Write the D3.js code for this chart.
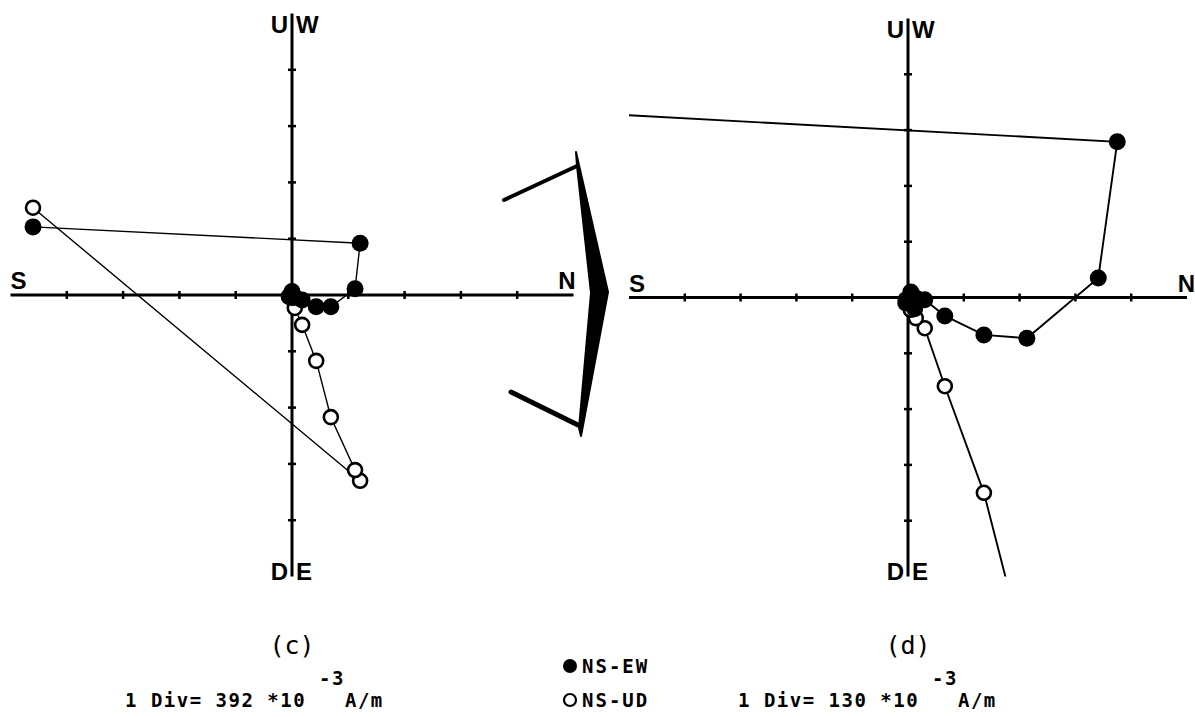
<!DOCTYPE html>
<html><head><meta charset="utf-8">
<script src="https://cdn.jsdelivr.net/npm/d3@7"></script>
<style>body{margin:0;background:#fff;} svg{display:block}</style>
</head><body>
<svg id="chart" width="1195" height="717"></svg>
<script>
// ---- Data (values in divisions) ----
// Panel (c): 1 Div = 392e-3 A/m
const nsC = [-4.60, 1.21, 1.12, 0.69, 0.43, 0.18, 0.05, 0.00, -0.05];
const ewC = [1.21, 0.92, 0.11, -0.21, -0.21, -0.09, -0.04, 0.06, -0.03];
const udC = [1.55, -3.30, -3.11, -2.17, -1.17, -0.53, -0.23, -0.05, -0.02];
// Panel (d): 1 Div = 130e-3 A/m (first steps fall outside the frame)
const nsD = [-8.0, 3.75, 3.41, 2.13, 1.36, 0.66, 0.30, 0.14, 0.05, -0.04, 0.12];
const ewD = [3.43, 2.79, 0.35, -0.73, -0.67, -0.33, -0.04, -0.01, 0.10, -0.10, -0.20];
const udD = [-10.0, -9.0, -8.0, -6.5, -3.50, -1.59, -0.55, -0.37, -0.22, -0.04, -0.04];
const tickDivs = [-4, -3, -2, -1, 1, 2, 3, 4];
const panelLabels = ["(c)", "(d)"];
const scaleValues = ["392", "130"];
const legendLabels = ["NS-EW", "NS-UD"];
const axisLabels = {top: ["U", "W"], bottom: ["D", "E"], left: "S", right: "N"};

const svg = d3.select("#chart");

const panels = [
  {id: "c", ns: nsC, ew: ewC, ud: udC, cx: 292, cy: 295, div: 56.3, label: panelLabels[0], scale: scaleValues[0], textX: 125, lw: 1.4},
  {id: "d", ns: nsD, ew: ewD, ud: udD, cx: 908, cy: 297.5, div: 55.8, label: panelLabels[1], scale: scaleValues[1], textX: 738, lw: 1.9}
];

const labelFont = "'Liberation Sans', Arial, sans-serif";
const plotFont = "'DejaVu Sans Mono', monospace";

panels.forEach(p => {
  const x = d3.scaleLinear().domain([-5, 5]).range([p.cx - 5 * p.div, p.cx + 5 * p.div]);
  const y = d3.scaleLinear().domain([-5, 5]).range([p.cy + 5 * p.div, p.cy - 5 * p.div]);
  const g = svg.append("g");

  svg.append("clipPath").attr("id", "clip-" + p.id).append("rect")
    .attr("x", x(-5)).attr("y", y(5)).attr("width", x(5) - x(-5)).attr("height", y(-5) - y(5));

  // axes
  g.append("line").attr("x1", x(-5)).attr("x2", x(5)).attr("y1", y(0)).attr("y2", y(0))
    .attr("stroke", "#000").attr("stroke-width", 3);
  g.append("line").attr("x1", x(0)).attr("x2", x(0)).attr("y1", y(5)).attr("y2", y(-5))
    .attr("stroke", "#000").attr("stroke-width", 3);
  g.selectAll(".tx").data(tickDivs).enter().append("line")
    .attr("x1", d => x(d)).attr("x2", d => x(d)).attr("y1", y(0) - 4).attr("y2", y(0) + 4)
    .attr("stroke", "#000").attr("stroke-width", 2.5);
  g.selectAll(".ty").data(tickDivs).enter().append("line")
    .attr("y1", d => y(d)).attr("y2", d => y(d)).attr("x1", x(0) - 4).attr("x2", x(0) + 4)
    .attr("stroke", "#000").attr("stroke-width", 2.5);

  // axis labels
  const lab = (t, px, py, anchor) => g.append("text").text(t).attr("x", px).attr("y", py)
    .attr("text-anchor", anchor).attr("font-family", labelFont).attr("font-weight", "bold")
    .attr("font-size", 24).attr("fill", "#000");
  lab(axisLabels.top[0], x(0) - 4, y(5) + 19, "end");
  lab(axisLabels.top[1], x(0) + 4, y(5) + 19, "start");
  lab(axisLabels.bottom[0], x(0) - 4, y(-5) + 3, "end");
  lab(axisLabels.bottom[1], x(0) + 4, y(-5) + 3, "start");
  lab(axisLabels.left, x(-5), y(0) - 6, "start");
  lab(axisLabels.right, x(5) + (p.id === "d" ? 8 : 2), y(0) - 6, "end");

  // data
  const idx = d3.range(p.ns.length);
  const dg = g.append("g").attr("clip-path", "url(#clip-" + p.id + ")");
  const lineEW = d3.line().x(i => x(p.ns[i])).y(i => y(p.ew[i]));
  const lineUD = d3.line().x(i => x(p.ns[i])).y(i => y(p.ud[i]));
  dg.append("path").attr("d", lineUD(idx)).attr("fill", "none").attr("stroke", "#000").attr("stroke-width", p.lw);
  dg.append("path").attr("d", lineEW(idx)).attr("fill", "none").attr("stroke", "#000").attr("stroke-width", p.lw);
  dg.selectAll(".ud").data(idx).enter().append("circle")
    .attr("cx", i => x(p.ns[i])).attr("cy", i => y(p.ud[i])).attr("r", 7)
    .attr("fill", "#fff").attr("stroke", "#000").attr("stroke-width", 2.6);
  dg.selectAll(".ew").data(idx).enter().append("circle")
    .attr("cx", i => x(p.ns[i])).attr("cy", i => y(p.ew[i])).attr("r", 8.5).attr("fill", "#000");

  // panel label
  svg.append("text").text(p.label).attr("x", x(0)).attr("y", 654).attr("text-anchor", "middle")
    .attr("font-family", plotFont).attr("font-size", 25).attr("fill", "#000");

  // scale text
  const t = svg.append("text").attr("x", p.textX).attr("y", 707)
    .attr("font-family", plotFont).attr("font-weight", "bold").attr("font-size", 19)
    .attr("letter-spacing", 1.5).attr("fill", "#000");
  t.append("tspan").text("1 Div= " + p.scale + " *10 ");
  t.append("tspan").attr("dy", -22).text("-3");
  t.append("tspan").attr("dy", 22).text("A/m");
});

// legend
const legY = [666, 700];
legendLabels.forEach((l, i) => {
  svg.append("circle").attr("cx", 570).attr("cy", legY[i]).attr("r", i === 0 ? 7 : 6)
    .attr("fill", i === 0 ? "#000" : "#fff").attr("stroke", "#000").attr("stroke-width", i === 0 ? 0 : 2.2);
  svg.append("text").text(l).attr("x", 582).attr("y", legY[i] + 7)
    .attr("font-family", plotFont).attr("font-weight", "bold").attr("font-size", 19)
    .attr("letter-spacing", 2).attr("fill", "#000");
});

// orientation symbol between the panels
const sym = svg.append("g");
sym.append("line").attr("x1", 504).attr("y1", 200).attr("x2", 577).attr("y2", 166)
  .attr("stroke", "#000").attr("stroke-width", 4).attr("stroke-linecap", "round");
sym.append("line").attr("x1", 511).attr("y1", 392).attr("x2", 578).attr("y2", 425)
  .attr("stroke", "#000").attr("stroke-width", 5).attr("stroke-linecap", "round");
sym.append("path").attr("d", "M576,152 L608,292 L581,436 L579,428 L591,293 L577,166 Z")
  .attr("fill", "#000").attr("stroke", "#000").attr("stroke-width", 2).attr("stroke-linejoin", "round");
</script>
</body></html>
